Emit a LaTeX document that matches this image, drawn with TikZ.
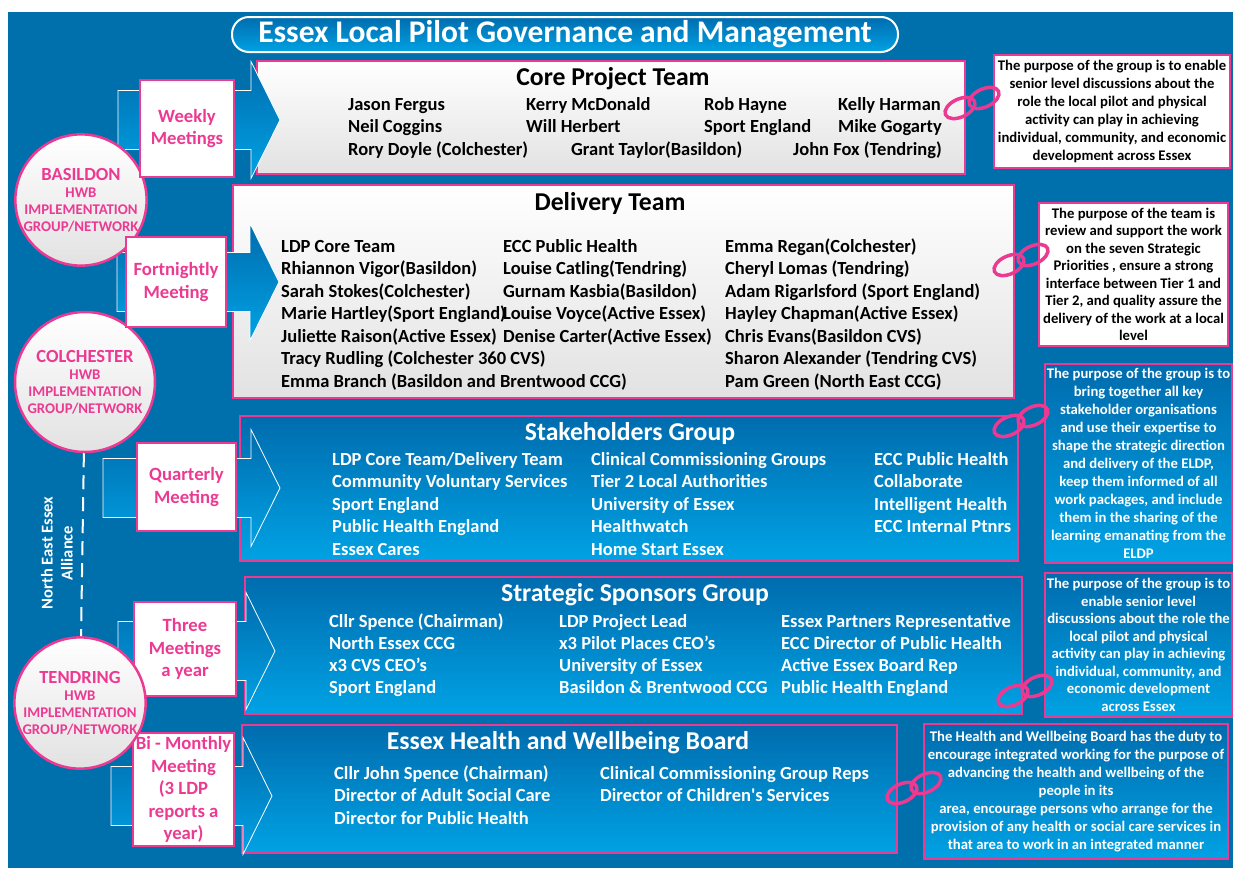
\documentclass[tikz,border=0pt]{standalone}
\usepackage{fontspec}
\setmainfont{Carlito}
\definecolor{essexbg}{RGB}{0,112,172}
\definecolor{boxtop}{RGB}{0,108,174}
\definecolor{boxbot}{RGB}{0,162,228}
\definecolor{hotpink}{RGB}{236,58,146}
\definecolor{graybot}{RGB}{226,226,226}
\tikzset{
  team/.style={draw=hotpink, line width=2.5pt, top color=white, bottom color=graybot, inner sep=0},
  group/.style={draw=hotpink, line width=2.5pt, top color=boxtop, bottom color=boxbot, inner sep=0},
  meetarrow/.style={draw=white, line width=0.8pt, top color=boxtop, bottom color=boxbot},
  freq/.style={draw=hotpink, line width=1.5pt, fill=white, text=hotpink, align=center, inner sep=0,
    font=\bfseries\fontsize{18.7}{22.5}\selectfont},
  hub/.style={circle, draw=hotpink, line width=2.5pt, top color=white, bottom color=graybot, text=hotpink,
    align=center, inner sep=0, font=\bfseries\fontsize{14.8}{17}\selectfont},
  purpose/.style={draw=hotpink, line width=2pt, align=center, inner sep=0,
    font=\bfseries\fontsize{14.7}{18}\selectfont},
  heading/.style={inner sep=0, font=\bfseries\fontsize{25.7}{27}\selectfont},
  % anchored at the baseline of the last line
  names/.style={anchor=base west, align=left, inner sep=0, font=\bfseries\fontsize{18.5}{22.5}\selectfont},
  link/.style={draw=hotpink, line width=3.5pt},
}
\begin{document}
\begin{tikzpicture}[x=1pt,y=-1pt]
\useasboundingbox (0,0) rectangle (1233,868);
\fill[essexbg] (8,12) rectangle (1233,868);
% title
\node[draw=white, line width=2pt, rounded corners=17pt, top color=boxtop, bottom color=boxbot,
  minimum width=666pt, minimum height=35pt, text=white, font=\bfseries\fontsize{31.5}{32}\selectfont]
  (title) at (565,34.5) {Essex Local Pilot Governance and Management};

% the five groups
\node[team, minimum width=708pt, minimum height=113pt] (core) at (611,117.5) {};
\node[heading] (core-t) at (613,79) {Core Project Team};
\node[names] (core-a) at (348,132.5) {Jason Fergus\\Neil Coggins};
\node[names] (core-b) at (526,132.5) {Kerry McDonald\\Will Herbert};
\node[names] (core-c) at (704,132.5) {Rob Hayne\\Sport England};
\node[names] (core-d) at (838,132.5) {Kelly Harman\\Mike Gogarty};
\node[names] (core-e) at (348,155) {Rory Doyle (Colchester)};
\node[names] (core-f) at (571,155) {Grant Taylor(Basildon)};
\node[names] (core-g) at (793,155) {John Fox (Tendring)};

\node[team, minimum width=781pt, minimum height=213pt] (delivery) at (623.5,291.5) {};
\node[heading] (delivery-t) at (610,203) {Delivery Team};
\node[names] (delivery-a) at (281,387) {LDP Core Team\\Rhiannon Vigor(Basildon)\\Sarah Stokes(Colchester)\\Marie Hartley(Sport England)\\Juliette Raison(Active Essex)\\Tracy Rudling (Colchester 360 CVS)\\Emma Branch (Basildon and Brentwood CCG)};
\node[names] (delivery-b) at (503,342) {ECC Public Health\\Louise Catling(Tendring)\\Gurnam Kasbia(Basildon)\\Louise Voyce(Active Essex)\\Denise Carter(Active Essex)};
\node[names] (delivery-c) at (725,387) {Emma Regan(Colchester)\\Cheryl Lomas (Tendring)\\Adam Rigarlsford (Sport England)\\Hayley Chapman(Active Essex)\\Chris Evans(Basildon CVS)\\Sharon Alexander (Tendring CVS)\\Pam Green (North East CCG)};

\node[group, minimum width=778pt, minimum height=145pt] (stake) at (629,488.5) {};
\node[heading, text=white] (stake-t) at (630,433) {Stakeholders Group};
\node[names, text=white] (stake-a) at (332,555) {LDP Core Team/Delivery Team\\Community Voluntary Services\\Sport England\\Public Health England\\Essex Cares};
\node[names, text=white] (stake-b) at (591,555) {Clinical Commissioning Groups\\Tier 2 Local Authorities\\University of Essex\\Healthwatch\\Home Start Essex};
\node[names, text=white] (stake-c) at (874,532.5) {ECC Public Health\\Collaborate\\Intelligent Health\\ECC Internal Ptnrs};

\node[group, minimum width=777pt, minimum height=137pt] (sponsors) at (633.5,645.5) {};
\node[heading, text=white] (sponsors-t) at (635,595) {Strategic Sponsors Group};
\node[names, text=white, font=\bfseries\fontsize{18.5}{22}\selectfont] (sponsors-a) at (329,693) {Cllr Spence (Chairman)\\North Essex CCG\\x3 CVS CEO’s\\Sport England};
\node[names, text=white, font=\bfseries\fontsize{18.5}{22}\selectfont] (sponsors-b) at (559,693) {LDP Project Lead\\x3 Pilot Places CEO’s\\University of Essex\\Basildon \& Brentwood CCG};
\node[names, text=white, font=\bfseries\fontsize{18.5}{22}\selectfont] (sponsors-c) at (781,693) {Essex Partners Representative\\ECC Director of Public Health\\Active Essex Board Rep\\Public Health England};

\node[group, minimum width=655pt, minimum height=128pt] (board) at (569.5,789) {};
\node[heading, text=white] (board-t) at (568,743) {Essex Health and Wellbeing Board};
\node[names, text=white] (board-a) at (334,824) {Cllr John Spence (Chairman)\\Director of Adult Social Care\\Director for Public Health};
\node[names, text=white] (board-b) at (600,801.5) {Clinical Commissioning Group Reps\\Director of Children\textquotesingle s Services};

% meeting arrows
\foreach \bx/\ym/\hx in {118/120/251, 117/282/250, 103/488/251, 118/651/246, 111/796/243}
  \draw[meetarrow] (\bx,\ym-29.5) -- (\hx,\ym-29.5) -- (\hx,\ym-58.5) -- (\hx+29,\ym)
    -- (\hx,\ym+58.5) -- (\hx,\ym+29.5) -- (\bx,\ym+29.5) -- cycle;

% HWB groups
\node[hub, minimum size=130pt] (basildon) at (81,200) {{\fontsize{18.5}{20}\selectfont BASILDON}\\HWB\\IMPLEMENTATION\\GROUP/NETWORK};
\node[hub, minimum size=140pt] (colchester) at (85,382) {{\fontsize{18.5}{20}\selectfont COLCHESTER}\\HWB\\IMPLEMENTATION\\GROUP/NETWORK};

% meeting frequency
\node[freq, minimum width=94pt, minimum height=97pt] (weekly) at (187,128.5) {Weekly\\Meetings};
\node[freq, minimum width=100pt, minimum height=90pt] (fortnightly) at (176,282) {Fortnightly\\Meeting};
\node[freq, minimum width=99pt, minimum height=88pt] (quarterly) at (186.5,487) {Quarterly\\Meeting};
\node[freq, minimum width=102pt, minimum height=94pt] (thrice) at (185,649) {Three\\Meetings\\a year};
\node[freq, minimum width=101pt, minimum height=113pt] (bimonthly) at (183.5,789.5) {Bi - Monthly\\Meeting\\(3 LDP\\reports a\\year)};

\node[hub, minimum size=131pt] (tendring) at (80,703) {{\fontsize{18.5}{20}\selectfont TENDRING}\\HWB\\IMPLEMENTATION\\GROUP/NETWORK};
\draw[white, line width=2pt, dash pattern=on 14pt off 8pt] (colchester) -- (tendring);
\node[rotate=90, text=white, align=center, inner sep=0, font=\bfseries\fontsize{16.5}{20}\selectfont]
  (alliance) at (57,553) {North East Essex\\Alliance};

% purpose notes
\node[purpose, fill=white, minimum width=236pt, minimum height=113pt] (aim-core) at (1112,111.5)
  {The purpose of the group is to enable\\senior level discussions about the\\role the local pilot and physical\\activity can play in achieving\\individual, community, and economic\\development across Essex};
\node[purpose, fill=white, minimum width=189pt, minimum height=143pt, font=\bfseries\fontsize{14.7}{17.5}\selectfont] (aim-delivery) at (1133.5,274.5)
  {The purpose of the team is\\review and support the work\\on the seven Strategic\\Priorities , ensure a strong\\interface between Tier 1 and\\Tier 2, and quality assure the\\delivery of the work at a local\\level};
\node[purpose, group, line width=2pt, text=white, minimum width=187pt, minimum height=199pt] (aim-stake) at (1138.5,463.5)
  {The purpose of the group is to\\bring together all key\\stakeholder organisations\\and use their expertise to\\shape the strategic direction\\and delivery of the ELDP,\\keep them informed of all\\work packages, and include\\them in the sharing of the\\learning emanating from the\\ELDP};
\node[purpose, group, line width=2pt, text=white, minimum width=187pt, minimum height=144pt, font=\bfseries\fontsize{14.7}{17.5}\selectfont] (aim-sponsors) at (1138.5,645)
  {The purpose of the group is to\\enable senior level\\discussions about the role the\\local pilot and physical\\activity can play in achieving\\individual, community, and\\economic development\\across Essex};
\node[purpose, group, line width=2pt, text=white, minimum width=304pt, minimum height=135pt] (aim-board) at (1076,791.5)
  {The Health and Wellbeing Board has the duty to\\encourage integrated working for the purpose of\\advancing the health and wellbeing of the\\people in its\\area, encourage persons who arrange for the\\provision of any health or social care services in\\that area to work in an integrated manner};

% chain links
\foreach \cx/\cy in {972/103, 1021/260, 1021/421, 1025/691, 914/788} {
  \draw[link] (\cx-12,\cy+5) ellipse [x radius=16pt, y radius=9pt, rotate=25];
  \draw[link] (\cx+12,\cy-5) ellipse [x radius=16pt, y radius=9pt, rotate=25];
}
\end{tikzpicture}
\end{document}
